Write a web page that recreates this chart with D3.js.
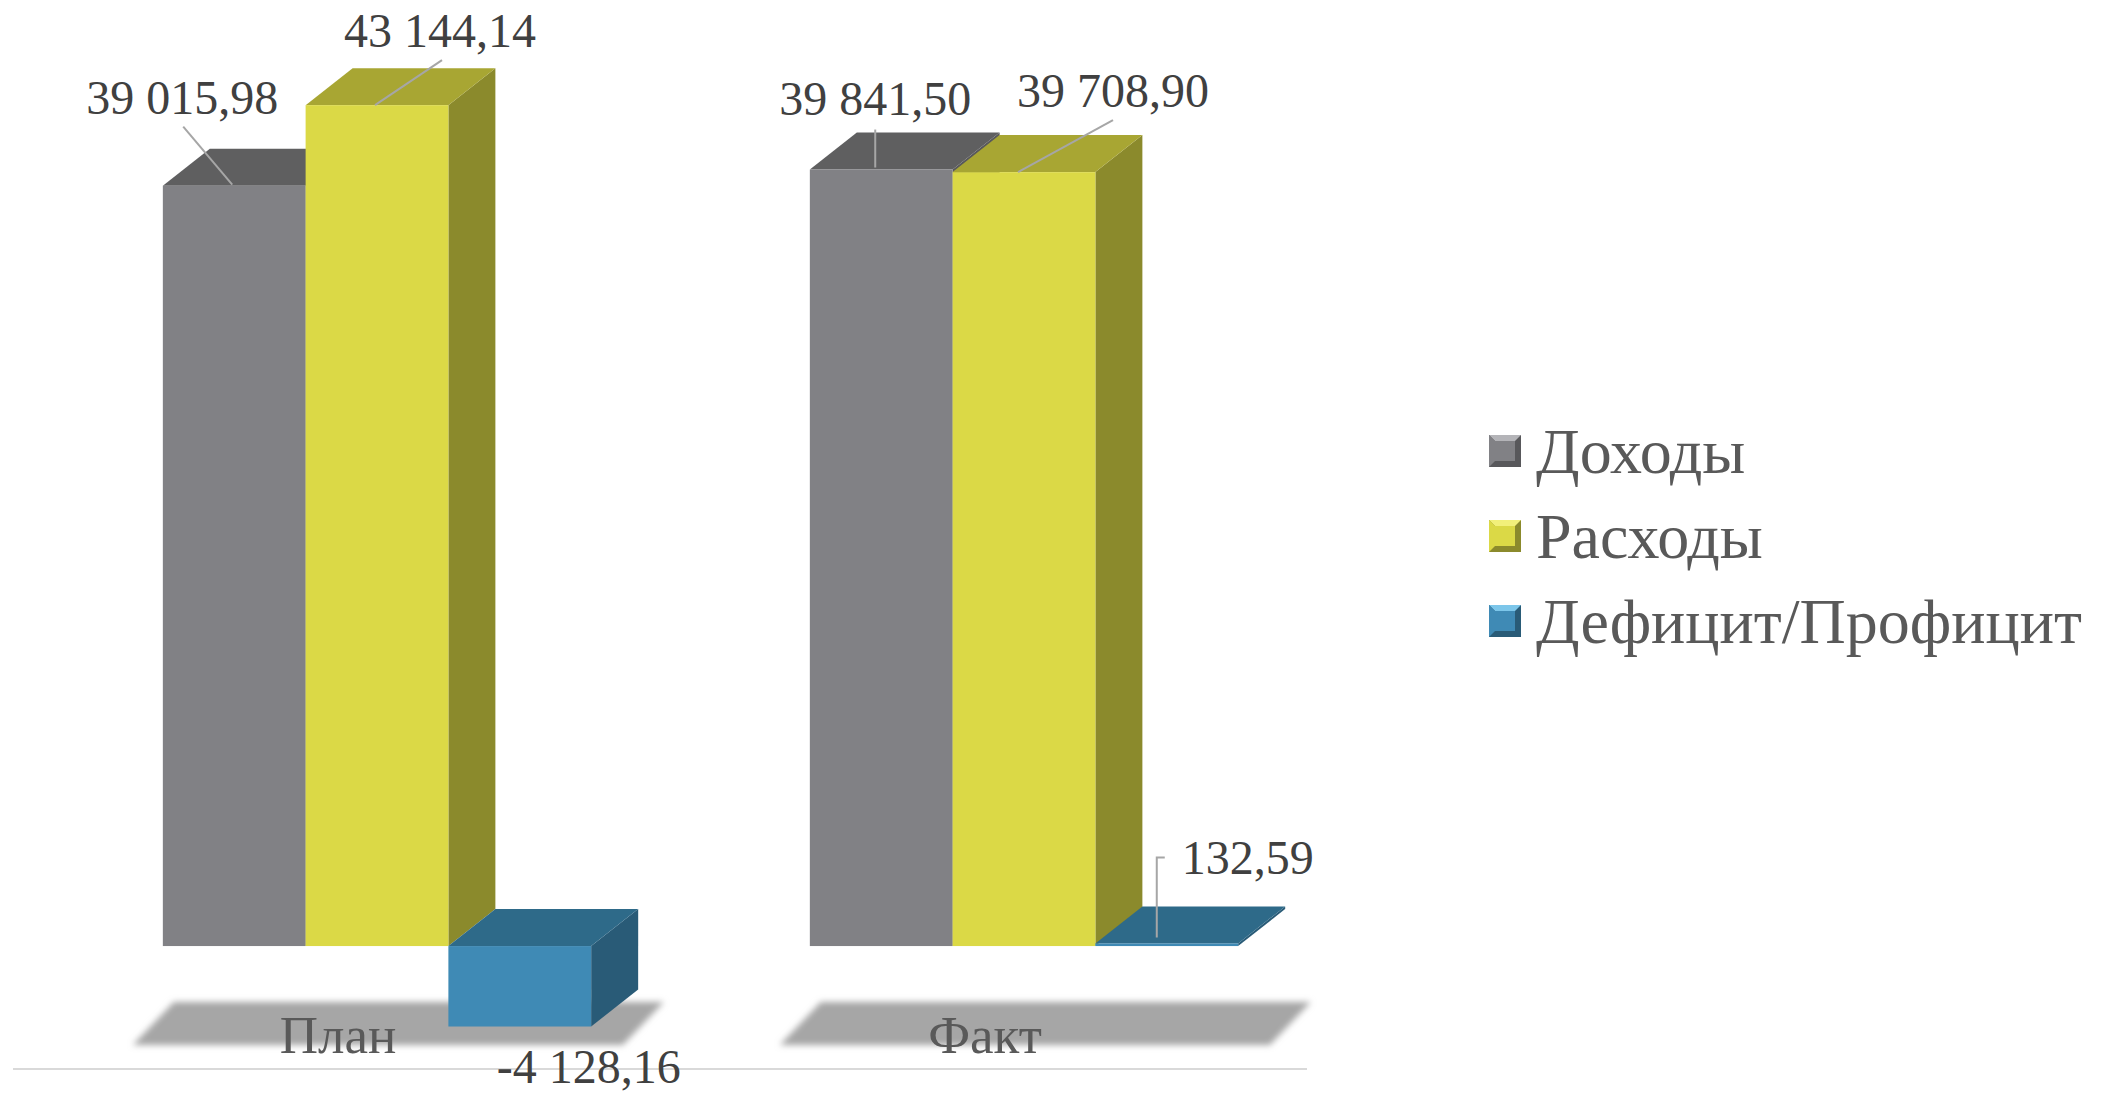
<!DOCTYPE html>
<html>
<head>
  <meta charset="UTF-8">
  <title>План / Факт</title>
  <script src="https://d3js.org/d3.v7.min.js"></script>
  <style>
    body { margin: 0; background: #fff; }
    text { font-family: "Liberation Serif", "DejaVu Serif", serif; }
  </style>
</head>
<body>
  <svg width="2108" height="1094"></svg>

  <script>
    // data
    const categories = ["План", "Факт"];
    const series = ["Доходы", "Расходы", "Дефицит/Профицит"];
    const dohody = [39015.98, 39841.50];
    const rashody = [43144.14, 39708.90];
    const deficit = [-4128.16, 132.59];

    const colors = {
      "Доходы":           { front: "#818185", top: "#5f5f60", side: "#58585b", hi: "#b4b4b8" },
      "Расходы":          { front: "#dbd946", top: "#a8a633", side: "#8b8a2c", hi: "#f2f07a" },
      "Дефицит/Профицит": { front: "#3f8ab5", top: "#2e6a89", side: "#295b77", hi: "#7cc6ea" }
    };

    // where each value label sits relative to its bar's front-top point, plus leader path
    const labelLayout = {
      "План|Доходы":           { dx: -52, dy: -72, leader: [[-51, -59], [-2, -1]] },
      "План|Расходы":          { dx: 63,  dy: -58, leader: [[65, -45], [-2, 0]] },
      "План|Дефицит/Профицит": { dx: 69,  dy: 56,  leader: null, fromBottom: true },
      "Факт|Доходы":           { dx: -6,  dy: -55, leader: [[-6, -40], [-6, -2]] },
      "Факт|Расходы":          { dx: 89,  dy: -65, leader: [[89, -52], [-6, 0]] },
      "Факт|Дефицит/Профицит": { dx: 81,  dy: -69, leader: [[-2, -86], [-10, -86], [-10, -6]] }
    };

    const depth = { dx: 47, dy: -37 };

    const svg = d3.select("svg");
    const ru = d3.formatLocale({ decimal: ",", thousands: " ", grouping: [3], currency: ["", ""], minus: "-" });
    const fmt = ru.format(",.2f");

    const rows = [];
    categories.forEach((c, i) => {
      const vals = [dohody[i], rashody[i], deficit[i]];
      series.forEach((s, j) => rows.push({ cat: c, ser: s, value: vals[j] }));
    });

    const x0 = d3.scaleBand().domain(categories).range([53.5, 1347.5])
      .paddingInner(0.338).paddingOuter(0.169);
    const x1 = d3.scaleBand().domain(series).range([0, x0.bandwidth()]);
    const y = d3.scaleLinear().domain([-5000, 45000]).range([1043.5, 69]);

    const defs = svg.append("defs");
    defs.append("filter").attr("id", "blur")
      .attr("x", "-10%").attr("y", "-30%").attr("width", "120%").attr("height", "160%")
      .append("feGaussianBlur").attr("stdDeviation", 3);

    // soft grey floor under each category
    svg.append("g")
      .selectAll("polygon")
      .data(categories)
      .join("polygon")
      .attr("fill", "#a6a6a6")
      .attr("filter", "url(#blur)")
      .attr("points", c => {
        const gx = x0(c);
        return [[gx - 30, 1045], [gx + 11, 1002], [gx + 501, 1002], [gx + 460, 1045]].join(" ");
      });

    // axis line
    svg.append("line")
      .attr("x1", 13).attr("x2", 1307)
      .attr("y1", 1069).attr("y2", 1069)
      .attr("stroke", "#d9d9d9").attr("stroke-width", 2);

    // 3d bars
    const bars = svg.append("g")
      .selectAll("g")
      .data(rows)
      .join("g");

    const geom = d => {
      const xl = x0(d.cat) + x1(d.ser), w = x1.bandwidth();
      const yt = y(Math.max(0, d.value)), yb = y(Math.min(0, d.value));
      return { xl, w, yt, yb };
    };

    bars.append("polygon")
      .attr("fill", d => colors[d.ser].side)
      .attr("points", d => {
        const g = geom(d);
        return [[g.xl + g.w, g.yt], [g.xl + g.w + depth.dx, g.yt + depth.dy],
                [g.xl + g.w + depth.dx, g.yb + depth.dy], [g.xl + g.w, g.yb]].join(" ");
      });

    bars.append("polygon")
      .attr("fill", d => colors[d.ser].top)
      .attr("points", d => {
        const g = geom(d);
        return [[g.xl, g.yt], [g.xl + depth.dx, g.yt + depth.dy],
                [g.xl + g.w + depth.dx, g.yt + depth.dy], [g.xl + g.w, g.yt]].join(" ");
      });

    bars.append("rect")
      .attr("fill", d => colors[d.ser].front)
      .attr("x", d => geom(d).xl)
      .attr("y", d => geom(d).yt)
      .attr("width", x1.bandwidth())
      .attr("height", d => geom(d).yb - geom(d).yt);

    // category labels
    svg.append("g")
      .attr("font-size", 53)
      .attr("fill", "#595959")
      .attr("text-anchor", "middle")
      .selectAll("text")
      .data(categories)
      .join("text")
      .attr("x", c => x0(c) + x0.bandwidth() / 2 - 39)
      .attr("y", 1053)
      .text(c => c);

    // leader lines and value labels
    const anchor = d => {
      const g = geom(d);
      const L = labelLayout[d.cat + "|" + d.ser];
      return [g.xl + g.w / 2, L.fromBottom ? g.yb : g.yt];
    };

    svg.append("g")
      .attr("fill", "none")
      .attr("stroke", "#a6a6a6")
      .attr("stroke-width", 2)
      .selectAll("path")
      .data(rows.filter(d => labelLayout[d.cat + "|" + d.ser].leader))
      .join("path")
      .attr("d", d => {
        const [ax, ay] = anchor(d);
        return d3.line()(labelLayout[d.cat + "|" + d.ser].leader.map(p => [ax + p[0], ay + p[1]]));
      });

    svg.append("g")
      .attr("font-size", 48)
      .attr("fill", "#404040")
      .attr("text-anchor", "middle")
      .selectAll("text")
      .data(rows)
      .join("text")
      .attr("x", d => anchor(d)[0] + labelLayout[d.cat + "|" + d.ser].dx)
      .attr("y", d => anchor(d)[1] + labelLayout[d.cat + "|" + d.ser].dy)
      .text(d => fmt(d.value));

    // legend with small bevelled keys
    const legend = svg.append("g")
      .selectAll("g")
      .data(series)
      .join("g")
      .attr("transform", (s, i) => `translate(1489, ${473 + i * 85})`);

    const k = 32, b = 6;
    legend.append("rect")
      .attr("x", 0).attr("y", -38)
      .attr("width", k).attr("height", k)
      .attr("fill", s => colors[s].side);
    legend.append("polygon")
      .attr("fill", s => colors[s].hi)
      .attr("points", `0,-38 ${k},-38 ${k - b},${-38 + b} ${b},${-38 + b}`);
    legend.append("polygon")
      .attr("fill", s => colors[s].front)
      .attr("points", `0,-38 ${b},${-38 + b} ${b},${-38 + k - b} 0,${-38 + k}`);
    legend.append("rect")
      .attr("x", b).attr("y", -38 + b)
      .attr("width", k - 2 * b).attr("height", k - 2 * b)
      .attr("fill", s => colors[s].front);

    legend.append("text")
      .attr("x", 47)
      .attr("font-size", 64)
      .attr("fill", "#595959")
      .text(s => s);
  </script>
</body>
</html>
